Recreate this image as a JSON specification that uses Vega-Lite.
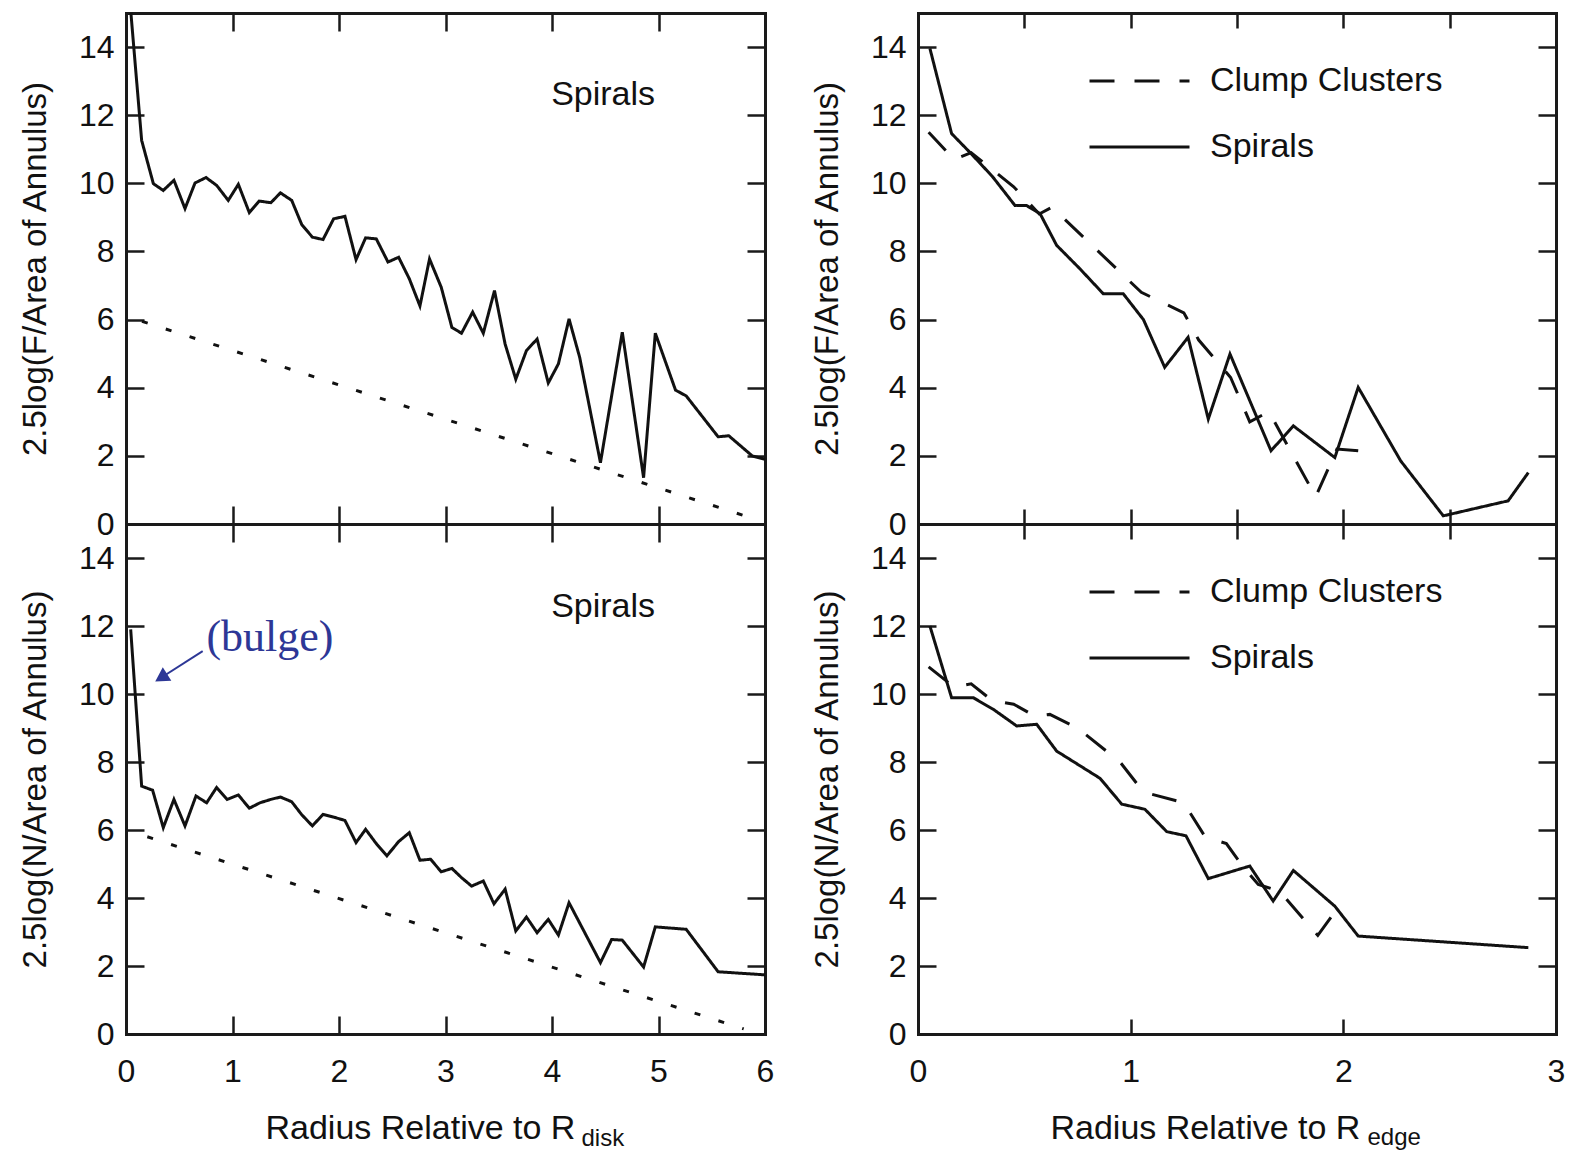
{
  "$schema": "https://vega.github.io/schema/vega-lite/v6.json",
  "padding": {"left": 18, "top": 7, "right": 5, "bottom": 0},
  "background": "white",
  "config": {
    "view": {"stroke": null},
    "axis": {
      "domainColor": "#1a1a1a", "domainWidth": 3, "domainCap": "square",
      "tickColor": "#1a1a1a", "tickWidth": 2.5, "tickSize": -18,
      "labelFont": "Liberation Sans", "labelFontSize": 32, "labelColor": "#111",
      "titleFont": "Liberation Sans", "titleFontSize": 33, "titleColor": "#111", "titleFontWeight": "normal",
      "grid": false, "labelFlush": false, "labelOverlap": false, "labelPadding": 30
    },
    "text": {"font": "Liberation Sans"},
    "legend": {
      "orient": "none", "title": null, "symbolType": "stroke", "symbolSize": 10000,
      "symbolStrokeWidth": 3, "symbolStrokeColor": "#111", "labelFont": "Liberation Sans",
      "labelFontSize": 34, "labelColor": "#111", "labelOffset": 19, "labelLimit": 500, "clipHeight": 40,
      "rowPadding": 26, "padding": 0
    }
  },
  "datasets": {
    "tl": [
      {"series": "Spirals", "x": 0.046, "y": 15.0}, {"series": "Spirals", "x": 0.147, "y": 11.26}, {"series": "Spirals", "x": 0.257, "y": 9.99}, {"series": "Spirals", "x": 0.35, "y": 9.79}, {"series": "Spirals", "x": 0.45, "y": 10.09}, {"series": "Spirals", "x": 0.554, "y": 9.26}, {"series": "Spirals", "x": 0.648, "y": 10.01}, {"series": "Spirals", "x": 0.751, "y": 10.17}, {"series": "Spirals", "x": 0.851, "y": 9.94}, {"series": "Spirals", "x": 0.96, "y": 9.5}, {"series": "Spirals", "x": 1.055, "y": 9.97}, {"series": "Spirals", "x": 1.158, "y": 9.14}, {"series": "Spirals", "x": 1.25, "y": 9.48}, {"series": "Spirals", "x": 1.36, "y": 9.43}, {"series": "Spirals", "x": 1.45, "y": 9.72}, {"series": "Spirals", "x": 1.556, "y": 9.5}, {"series": "Spirals", "x": 1.65, "y": 8.79}, {"series": "Spirals", "x": 1.75, "y": 8.42}, {"series": "Spirals", "x": 1.85, "y": 8.35}, {"series": "Spirals", "x": 1.95, "y": 8.96}, {"series": "Spirals", "x": 2.056, "y": 9.03}, {"series": "Spirals", "x": 2.16, "y": 7.76}, {"series": "Spirals", "x": 2.25, "y": 8.4}, {"series": "Spirals", "x": 2.35, "y": 8.37}, {"series": "Spirals", "x": 2.46, "y": 7.69}, {"series": "Spirals", "x": 2.56, "y": 7.83}, {"series": "Spirals", "x": 2.66, "y": 7.2}, {"series": "Spirals", "x": 2.76, "y": 6.4}, {"series": "Spirals", "x": 2.85, "y": 7.78}, {"series": "Spirals", "x": 2.96, "y": 6.95}, {"series": "Spirals", "x": 3.06, "y": 5.77}, {"series": "Spirals", "x": 3.15, "y": 5.6}, {"series": "Spirals", "x": 3.255, "y": 6.22}, {"series": "Spirals", "x": 3.355, "y": 5.6}, {"series": "Spirals", "x": 3.46, "y": 6.85}, {"series": "Spirals", "x": 3.56, "y": 5.28}, {"series": "Spirals", "x": 3.66, "y": 4.25}, {"series": "Spirals", "x": 3.76, "y": 5.09}, {"series": "Spirals", "x": 3.86, "y": 5.43}, {"series": "Spirals", "x": 3.965, "y": 4.14}, {"series": "Spirals", "x": 4.06, "y": 4.7}, {"series": "Spirals", "x": 4.16, "y": 6.02}, {"series": "Spirals", "x": 4.26, "y": 4.89}, {"series": "Spirals", "x": 4.455, "y": 1.8}, {"series": "Spirals", "x": 4.66, "y": 5.63}, {"series": "Spirals", "x": 4.86, "y": 1.36}, {"series": "Spirals", "x": 4.97, "y": 5.6}, {"series": "Spirals", "x": 5.16, "y": 3.93}, {"series": "Spirals", "x": 5.26, "y": 3.76}, {"series": "Spirals", "x": 5.56, "y": 2.56}, {"series": "Spirals", "x": 5.66, "y": 2.59}, {"series": "Spirals", "x": 5.88, "y": 2.0}, {"series": "Spirals", "x": 6.0, "y": 1.9},
      {"series": "Disk", "x": 0.15, "y": 5.95}, {"series": "Disk", "x": 5.9, "y": 0.15}
    ],
    "bl": [
      {"series": "Spirals", "x": 0.044, "y": 11.9}, {"series": "Spirals", "x": 0.147, "y": 7.29}, {"series": "Spirals", "x": 0.25, "y": 7.17}, {"series": "Spirals", "x": 0.35, "y": 6.07}, {"series": "Spirals", "x": 0.45, "y": 6.9}, {"series": "Spirals", "x": 0.554, "y": 6.12}, {"series": "Spirals", "x": 0.657, "y": 7.0}, {"series": "Spirals", "x": 0.757, "y": 6.8}, {"series": "Spirals", "x": 0.851, "y": 7.25}, {"series": "Spirals", "x": 0.95, "y": 6.9}, {"series": "Spirals", "x": 1.055, "y": 7.03}, {"series": "Spirals", "x": 1.158, "y": 6.64}, {"series": "Spirals", "x": 1.258, "y": 6.8}, {"series": "Spirals", "x": 1.36, "y": 6.9}, {"series": "Spirals", "x": 1.45, "y": 6.97}, {"series": "Spirals", "x": 1.556, "y": 6.83}, {"series": "Spirals", "x": 1.65, "y": 6.45}, {"series": "Spirals", "x": 1.75, "y": 6.12}, {"series": "Spirals", "x": 1.85, "y": 6.46}, {"series": "Spirals", "x": 1.95, "y": 6.38}, {"series": "Spirals", "x": 2.056, "y": 6.28}, {"series": "Spirals", "x": 2.16, "y": 5.63}, {"series": "Spirals", "x": 2.25, "y": 6.02}, {"series": "Spirals", "x": 2.35, "y": 5.6}, {"series": "Spirals", "x": 2.45, "y": 5.24}, {"series": "Spirals", "x": 2.56, "y": 5.66}, {"series": "Spirals", "x": 2.66, "y": 5.92}, {"series": "Spirals", "x": 2.76, "y": 5.11}, {"series": "Spirals", "x": 2.86, "y": 5.14}, {"series": "Spirals", "x": 2.96, "y": 4.77}, {"series": "Spirals", "x": 3.06, "y": 4.87}, {"series": "Spirals", "x": 3.15, "y": 4.6}, {"series": "Spirals", "x": 3.245, "y": 4.35}, {"series": "Spirals", "x": 3.355, "y": 4.5}, {"series": "Spirals", "x": 3.455, "y": 3.83}, {"series": "Spirals", "x": 3.56, "y": 4.26}, {"series": "Spirals", "x": 3.66, "y": 3.03}, {"series": "Spirals", "x": 3.76, "y": 3.44}, {"series": "Spirals", "x": 3.86, "y": 2.98}, {"series": "Spirals", "x": 3.965, "y": 3.37}, {"series": "Spirals", "x": 4.06, "y": 2.91}, {"series": "Spirals", "x": 4.16, "y": 3.86}, {"series": "Spirals", "x": 4.455, "y": 2.1}, {"series": "Spirals", "x": 4.56, "y": 2.78}, {"series": "Spirals", "x": 4.66, "y": 2.76}, {"series": "Spirals", "x": 4.86, "y": 1.97}, {"series": "Spirals", "x": 4.97, "y": 3.15}, {"series": "Spirals", "x": 5.26, "y": 3.08}, {"series": "Spirals", "x": 5.56, "y": 1.83}, {"series": "Spirals", "x": 6.0, "y": 1.74},
      {"series": "Disk", "x": 0.2, "y": 5.8}, {"series": "Disk", "x": 5.8, "y": 0.15}
    ],
    "tr": [
      {"series": "Spirals", "x": 0.056, "y": 13.96}, {"series": "Spirals", "x": 0.158, "y": 11.46}, {"series": "Spirals", "x": 0.25, "y": 10.87}, {"series": "Spirals", "x": 0.35, "y": 10.2}, {"series": "Spirals", "x": 0.456, "y": 9.35}, {"series": "Spirals", "x": 0.51, "y": 9.35}, {"series": "Spirals", "x": 0.574, "y": 9.11}, {"series": "Spirals", "x": 0.652, "y": 8.18}, {"series": "Spirals", "x": 0.76, "y": 7.5}, {"series": "Spirals", "x": 0.871, "y": 6.76}, {"series": "Spirals", "x": 0.965, "y": 6.76}, {"series": "Spirals", "x": 1.06, "y": 6.0}, {"series": "Spirals", "x": 1.16, "y": 4.6}, {"series": "Spirals", "x": 1.27, "y": 5.48}, {"series": "Spirals", "x": 1.365, "y": 3.08}, {"series": "Spirals", "x": 1.467, "y": 4.99}, {"series": "Spirals", "x": 1.66, "y": 2.15}, {"series": "Spirals", "x": 1.765, "y": 2.88}, {"series": "Spirals", "x": 1.96, "y": 1.95}, {"series": "Spirals", "x": 2.07, "y": 4.01}, {"series": "Spirals", "x": 2.27, "y": 1.85}, {"series": "Spirals", "x": 2.47, "y": 0.24}, {"series": "Spirals", "x": 2.775, "y": 0.68}, {"series": "Spirals", "x": 2.87, "y": 1.51},
      {"series": "Clump Clusters", "x": 0.05, "y": 11.5}, {"series": "Clump Clusters", "x": 0.17, "y": 10.7}, {"series": "Clump Clusters", "x": 0.25, "y": 10.9}, {"series": "Clump Clusters", "x": 0.45, "y": 9.9}, {"series": "Clump Clusters", "x": 0.57, "y": 9.1}, {"series": "Clump Clusters", "x": 0.63, "y": 9.3}, {"series": "Clump Clusters", "x": 1.05, "y": 6.8}, {"series": "Clump Clusters", "x": 1.25, "y": 6.2}, {"series": "Clump Clusters", "x": 1.32, "y": 5.4}, {"series": "Clump Clusters", "x": 1.47, "y": 4.3}, {"series": "Clump Clusters", "x": 1.56, "y": 3.0}, {"series": "Clump Clusters", "x": 1.65, "y": 3.3}, {"series": "Clump Clusters", "x": 1.87, "y": 0.8}, {"series": "Clump Clusters", "x": 1.97, "y": 2.2}, {"series": "Clump Clusters", "x": 2.07, "y": 2.15}
    ],
    "br": [
      {"series": "Spirals", "x": 0.056, "y": 12.0}, {"series": "Spirals", "x": 0.158, "y": 9.89}, {"series": "Spirals", "x": 0.26, "y": 9.89}, {"series": "Spirals", "x": 0.354, "y": 9.55}, {"series": "Spirals", "x": 0.464, "y": 9.06}, {"series": "Spirals", "x": 0.558, "y": 9.11}, {"series": "Spirals", "x": 0.652, "y": 8.32}, {"series": "Spirals", "x": 0.856, "y": 7.52}, {"series": "Spirals", "x": 0.958, "y": 6.76}, {"series": "Spirals", "x": 1.067, "y": 6.61}, {"series": "Spirals", "x": 1.17, "y": 5.95}, {"series": "Spirals", "x": 1.26, "y": 5.83}, {"series": "Spirals", "x": 1.365, "y": 4.57}, {"series": "Spirals", "x": 1.56, "y": 4.94}, {"series": "Spirals", "x": 1.67, "y": 3.91}, {"series": "Spirals", "x": 1.765, "y": 4.81}, {"series": "Spirals", "x": 1.96, "y": 3.76}, {"series": "Spirals", "x": 2.07, "y": 2.88}, {"series": "Spirals", "x": 2.87, "y": 2.54},
      {"series": "Clump Clusters", "x": 0.05, "y": 10.8}, {"series": "Clump Clusters", "x": 0.17, "y": 10.2}, {"series": "Clump Clusters", "x": 0.25, "y": 10.3}, {"series": "Clump Clusters", "x": 0.35, "y": 9.8}, {"series": "Clump Clusters", "x": 0.45, "y": 9.7}, {"series": "Clump Clusters", "x": 0.55, "y": 9.35}, {"series": "Clump Clusters", "x": 0.62, "y": 9.4}, {"series": "Clump Clusters", "x": 0.75, "y": 9.0}, {"series": "Clump Clusters", "x": 0.95, "y": 8.0}, {"series": "Clump Clusters", "x": 1.05, "y": 7.2}, {"series": "Clump Clusters", "x": 1.1, "y": 7.05}, {"series": "Clump Clusters", "x": 1.25, "y": 6.8}, {"series": "Clump Clusters", "x": 1.35, "y": 5.8}, {"series": "Clump Clusters", "x": 1.45, "y": 5.6}, {"series": "Clump Clusters", "x": 1.53, "y": 4.9}, {"series": "Clump Clusters", "x": 1.6, "y": 4.4}, {"series": "Clump Clusters", "x": 1.7, "y": 4.2}, {"series": "Clump Clusters", "x": 1.88, "y": 2.9}, {"series": "Clump Clusters", "x": 1.95, "y": 3.5}
    ]
  },
  "columns": 2,
  "bounds": "flush",
  "spacing": {"row": 0, "column": 153},
  "resolve": {"scale": {"strokeDash": "independent"}, "legend": {"strokeDash": "independent"}},
  "concat": [
    {
      "width": 639, "height": 511,
      "resolve": {"axis": {"x": "independent", "y": "independent"}},
      "layer": [
        {
          "data": {"name": "tl"},
          "mark": {"type": "line", "color": "#111", "strokeWidth": 3},
          "encoding": {
            "x": {"field": "x", "type": "quantitative", "scale": {"domain": [0, 6], "nice": false, "zero": false},
                  "axis": {"orient": "bottom", "values": [0, 1, 2, 3, 4, 5, 6], "labels": false, "title": null}},
            "y": {"field": "y", "type": "quantitative", "scale": {"domain": [0, 15], "nice": false},
                  "axis": {"orient": "left", "values": [0, 2, 4, 6, 8, 10, 12, 14], "title": "2.5log(F/Area of Annulus)", "titleX": -91, "titleY": 255.5, "titleBaseline": "middle", "titleAngle": -90}},
            "strokeDash": {"field": "series", "type": "nominal", "scale": {"domain": ["Spirals", "Disk"], "range": [[1, 0], [6, 19]]}, "legend": null}
          }
        },
        {
          "data": {"name": "tl"},
          "mark": {"type": "point", "opacity": 0},
          "encoding": {
            "x": {"field": "x", "type": "quantitative", "axis": {"orient": "top", "values": [0, 1, 2, 3, 4, 5, 6], "labels": false, "title": null}},
            "y": {"field": "y", "type": "quantitative", "axis": {"orient": "right", "values": [0, 2, 4, 6, 8, 10, 12, 14], "labels": false, "title": null}}
          }
        },
        {
          "data": {"values": [{"label": "Spirals"}]},
          "mark": {"type": "text", "fontSize": 34, "color": "#111", "align": "center", "baseline": "middle"},
          "encoding": {
            "x": {"datum": 4.48, "type": "quantitative", "axis": null},
            "y": {"datum": 12.59, "type": "quantitative", "axis": null},
            "text": {"field": "label"}
          }
        }
      ]
    },
    {
      "width": 638, "height": 511,
      "resolve": {"axis": {"x": "independent", "y": "independent"}},
      "layer": [
        {
          "data": {"name": "tr"},
          "mark": {"type": "line", "color": "#111", "strokeWidth": 3},
          "encoding": {
            "x": {"field": "x", "type": "quantitative", "scale": {"domain": [0, 3], "nice": false, "zero": false},
                  "axis": {"orient": "bottom", "values": [0, 0.5, 1, 1.5, 2, 2.5, 3], "labels": false, "title": null, "tickSize": -15}},
            "y": {"field": "y", "type": "quantitative", "scale": {"domain": [0, 15], "nice": false},
                  "axis": {"orient": "left", "values": [0, 2, 4, 6, 8, 10, 12, 14], "title": "2.5log(F/Area of Annulus)", "titleX": -91, "titleY": 255.5, "titleBaseline": "middle", "titleAngle": -90}},
            "strokeDash": {"field": "series", "type": "nominal", "scale": {"domain": ["Clump Clusters", "Spirals"], "range": [[25, 20], [1, 0]]},
                           "legend": {"legendX": 170, "legendY": 48}}
          }
        },
        {
          "data": {"name": "tr"},
          "mark": {"type": "point", "opacity": 0},
          "encoding": {
            "x": {"field": "x", "type": "quantitative", "axis": {"orient": "top", "values": [0, 0.5, 1, 1.5, 2, 2.5, 3], "labels": false, "title": null, "tickSize": -15}},
            "y": {"field": "y", "type": "quantitative", "axis": {"orient": "right", "values": [0, 2, 4, 6, 8, 10, 12, 14], "labels": false, "title": null}}
          }
        }
      ]
    },
    {
      "width": 639, "height": 510,
      "resolve": {"axis": {"x": "independent", "y": "independent"}},
      "layer": [
        {
          "data": {"name": "bl"},
          "mark": {"type": "line", "color": "#111", "strokeWidth": 3},
          "encoding": {
            "x": {"field": "x", "type": "quantitative", "scale": {"domain": [0, 6], "nice": false, "zero": false},
                  "axis": {"orient": "bottom", "values": [0, 1, 2, 3, 4, 5, 6], "title": "Radius Relative to R", "titleFontSize": 34, "titleX": 139, "titleY": 104, "titleAlign": "left", "titleBaseline": "alphabetic", "labelPadding": 40}},
            "y": {"field": "y", "type": "quantitative", "scale": {"domain": [0, 15], "nice": false},
                  "axis": {"orient": "left", "values": [0, 2, 4, 6, 8, 10, 12, 14], "title": "2.5log(N/Area of Annulus)", "titleX": -91, "titleY": 255, "titleBaseline": "middle", "titleAngle": -90}},
            "strokeDash": {"field": "series", "type": "nominal", "scale": {"domain": ["Spirals", "Disk"], "range": [[1, 0], [6, 19]]}, "legend": null}
          }
        },
        {
          "data": {"name": "bl"},
          "mark": {"type": "point", "opacity": 0},
          "encoding": {
            "x": {"field": "x", "type": "quantitative", "axis": {"orient": "top", "values": [0, 1, 2, 3, 4, 5, 6], "labels": false, "title": null}},
            "y": {"field": "y", "type": "quantitative", "axis": {"orient": "right", "values": [0, 2, 4, 6, 8, 10, 12, 14], "labels": false, "title": null}}
          }
        },
        {
          "data": {"name": "bl"},
          "mark": {"type": "point", "opacity": 0},
          "encoding": {
            "x": {"field": "x", "type": "quantitative", "axis": {"orient": "bottom", "domain": false, "ticks": false, "labels": false, "title": "disk", "titleX": 455, "titleY": 111, "titleFontSize": 24, "titleAlign": "left", "titleBaseline": "alphabetic"}},
            "y": {"field": "y", "type": "quantitative", "axis": null}
          }
        },
        {
          "data": {"values": [{"label": "Spirals"}]},
          "mark": {"type": "text", "fontSize": 34, "color": "#111", "align": "center", "baseline": "middle"},
          "encoding": {
            "x": {"datum": 4.48, "type": "quantitative", "axis": null},
            "y": {"datum": 12.56, "type": "quantitative", "axis": null},
            "text": {"field": "label"}
          }
        },
        {
          "data": {"values": [{"label": "(bulge)"}]},
          "mark": {"type": "text", "font": "Liberation Serif", "fontSize": 44, "color": "#2d3796", "align": "center", "baseline": "middle"},
          "encoding": {
            "x": {"datum": 1.352, "type": "quantitative", "axis": null},
            "y": {"datum": 11.65, "type": "quantitative", "axis": null},
            "text": {"field": "label"}
          }
        },
        {
          "data": {"values": [{"label": "arrow"}]},
          "mark": {"type": "rule", "color": "#2d3796", "strokeWidth": 2},
          "encoding": {
            "x": {"datum": 0.72, "type": "quantitative", "axis": null},
            "y": {"datum": 11.26, "type": "quantitative", "axis": null},
            "x2": {"datum": 0.34},
            "y2": {"datum": 10.5}
          }
        },
        {
          "data": {"values": [{"label": "arrowhead"}]},
          "mark": {"type": "point", "shape": "triangle-up", "filled": true, "color": "#2d3796", "size": 260, "angle": 238, "opacity": 1},
          "encoding": {
            "x": {"datum": 0.33, "type": "quantitative", "axis": null},
            "y": {"datum": 10.48, "type": "quantitative", "axis": null}
          }
        }
      ]
    },
    {
      "width": 638, "height": 510,
      "resolve": {"axis": {"x": "independent", "y": "independent"}},
      "layer": [
        {
          "data": {"name": "br"},
          "mark": {"type": "line", "color": "#111", "strokeWidth": 3},
          "encoding": {
            "x": {"field": "x", "type": "quantitative", "scale": {"domain": [0, 3], "nice": false, "zero": false},
                  "axis": {"orient": "bottom", "values": [0, 0.5, 1, 1.5, 2, 2.5, 3], "format": "d", "labelExpr": "datum.value % 1 === 0 ? datum.label : ''", "tickSize": -15, "title": "Radius Relative to R", "titleFontSize": 34, "titleX": 132, "titleY": 104, "titleAlign": "left", "titleBaseline": "alphabetic", "labelPadding": 37}},
            "y": {"field": "y", "type": "quantitative", "scale": {"domain": [0, 15], "nice": false},
                  "axis": {"orient": "left", "values": [0, 2, 4, 6, 8, 10, 12, 14], "title": "2.5log(N/Area of Annulus)", "titleX": -91, "titleY": 255, "titleBaseline": "middle", "titleAngle": -90}},
            "strokeDash": {"field": "series", "type": "nominal", "scale": {"domain": ["Clump Clusters", "Spirals"], "range": [[25, 20], [1, 0]]},
                           "legend": {"legendX": 170, "legendY": 48}}
          }
        },
        {
          "data": {"name": "br"},
          "mark": {"type": "point", "opacity": 0},
          "encoding": {
            "x": {"field": "x", "type": "quantitative", "axis": {"orient": "top", "values": [0, 0.5, 1, 1.5, 2, 2.5, 3], "labels": false, "title": null, "tickSize": -15}},
            "y": {"field": "y", "type": "quantitative", "axis": {"orient": "right", "values": [0, 2, 4, 6, 8, 10, 12, 14], "labels": false, "title": null}}
          }
        },
        {
          "data": {"name": "br"},
          "mark": {"type": "point", "opacity": 0},
          "encoding": {
            "x": {"field": "x", "type": "quantitative", "axis": {"orient": "bottom", "domain": false, "ticks": false, "labels": false, "title": "edge", "titleX": 449, "titleY": 110, "titleFontSize": 24, "titleAlign": "left", "titleBaseline": "alphabetic"}},
            "y": {"field": "y", "type": "quantitative", "axis": null}
          }
        }
      ]
    }
  ]
}
